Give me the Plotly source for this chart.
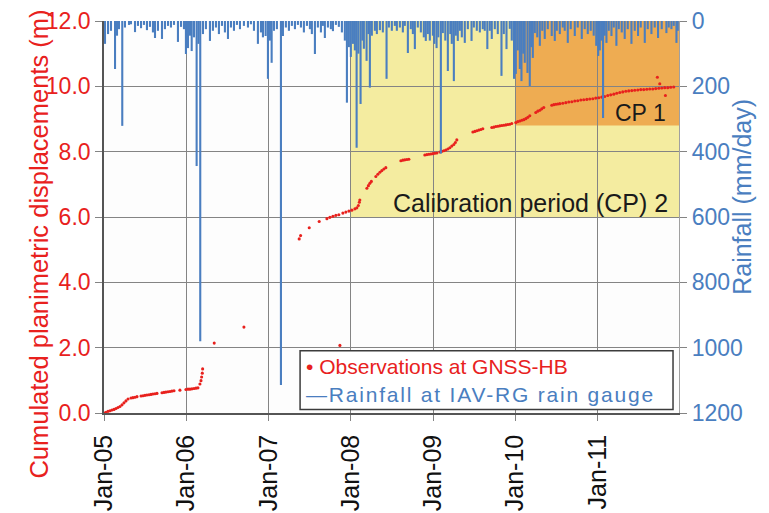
import plotly.graph_objects as go

# ---------------------------------------------------------------
# Daily rainfall events at the IAV-RG gauge (decimal year, mm/day)
# ---------------------------------------------------------------
rain_time = [
    2005.012, 2005.049, 2005.085, 2005.134, 2005.158, 2005.182, 2005.222, 2005.255,
    2005.304, 2005.328, 2005.377, 2005.413, 2005.450, 2005.486, 2005.522, 2005.559,
    2005.595, 2005.620, 2005.656, 2005.705, 2005.741, 2005.778, 2005.814, 2005.851,
    2005.899, 2005.936, 2005.972, 2005.996, 2006.021, 2006.045, 2006.066, 2006.094,
    2006.126, 2006.148, 2006.170, 2006.203, 2006.239, 2006.288, 2006.324, 2006.361,
    2006.397, 2006.434, 2006.470, 2006.507, 2006.543, 2006.580, 2006.616, 2006.653,
    2006.701, 2006.750, 2006.786, 2006.823, 2006.871, 2006.908, 2006.932, 2006.965,
    2006.993, 2007.017, 2007.038, 2007.066, 2007.102, 2007.151, 2007.175, 2007.211,
    2007.248, 2007.284, 2007.321, 2007.357, 2007.394, 2007.430, 2007.467, 2007.503,
    2007.527, 2007.564, 2007.600, 2007.637, 2007.661, 2007.685, 2007.722, 2007.758,
    2007.783, 2007.819, 2007.855, 2007.892, 2007.928, 2007.953, 2007.977, 2008.001,
    2008.026, 2008.050, 2008.071, 2008.092, 2008.119, 2008.141, 2008.159, 2008.192,
    2008.214, 2008.232, 2008.256, 2008.293, 2008.317, 2008.354, 2008.390, 2008.435,
    2008.463, 2008.499, 2008.536, 2008.560, 2008.597, 2008.633, 2008.657, 2008.694,
    2008.730, 2008.755, 2008.779, 2008.815, 2008.852, 2008.888, 2008.912, 2008.937,
    2008.961, 2008.998, 2009.016, 2009.043, 2009.064, 2009.095, 2009.119, 2009.149,
    2009.180, 2009.210, 2009.228, 2009.253, 2009.277, 2009.301, 2009.326, 2009.350,
    2009.386, 2009.423, 2009.468, 2009.496, 2009.532, 2009.569, 2009.605, 2009.629,
    2009.660, 2009.690, 2009.714, 2009.751, 2009.787, 2009.832, 2009.860, 2009.893,
    2009.933, 2009.957, 2009.985, 2010.006, 2010.030, 2010.055, 2010.075, 2010.097,
    2010.115, 2010.148, 2010.176, 2010.194, 2010.213, 2010.237, 2010.267, 2010.298,
    2010.328, 2010.358, 2010.395, 2010.443, 2010.480, 2010.504, 2010.541, 2010.577,
    2010.601, 2010.638, 2010.674, 2010.723, 2010.759, 2010.808, 2010.844, 2010.881,
    2010.917, 2010.953, 2010.984, 2011.008, 2011.027, 2011.045, 2011.067, 2011.087,
    2011.108, 2011.136, 2011.169, 2011.197, 2011.229, 2011.258, 2011.294, 2011.330,
    2011.367, 2011.412, 2011.452, 2011.492, 2011.525, 2011.574, 2011.610, 2011.655,
    2011.695, 2011.735, 2011.780, 2011.837, 2011.865, 2011.898, 2011.926, 2011.959,
    2011.975,
]
rain_mm = [
    70, 40, 30, 147, 45, 25, 321, 20,
    12, 10, 34, 15, 22, 12, 28, 18,
    35, 52, 30, 55, 25, 15, 20, 12,
    64, 18, 25, 101, 83, 45, 92, 50,
    444, 70, 980, 40, 25, 61, 30, 20,
    40, 15, 35, 55, 20, 30, 12, 25,
    15, 20, 10, 30, 70, 35, 50, 46,
    177, 60, 128, 30, 25, 1114, 46, 20,
    30, 15, 25, 12, 20, 35, 15, 25,
    40, 101, 20, 35, 15, 52, 20, 25,
    31, 12, 18, 35, 60, 250, 80, 110,
    70, 90, 388, 100, 254, 60, 85, 122,
    40, 204, 45, 30, 40, 28, 35, 177,
    20, 30, 15, 30, 20, 35, 15, 98,
    25, 40, 86, 20, 35, 50, 61, 40,
    60, 45, 70, 83, 50, 406, 37, 60,
    153, 40, 70, 184, 45, 61, 30, 50,
    67, 25, 61, 20, 30, 35, 25, 30,
    86, 30, 55, 25, 40, 168, 40, 86,
    24, 60, 177, 162, 90, 147, 184, 100,
    128, 159, 199, 80, 113, 37, 50, 76,
    30, 55, 25, 46, 61, 30, 40, 20,
    30, 67, 25, 46, 20, 55, 25, 40,
    30, 45, 76, 107, 90, 60, 297, 45,
    67, 30, 46, 20, 76, 25, 35, 55,
    25, 70, 30, 46, 20, 67, 25, 40,
    20, 52, 25, 37, 20, 25, 15, 67,
    30,
]

# ---------------------------------------------------------------
# GNSS-HB cumulated planimetric displacement (decimal year, m)
# ---------------------------------------------------------------
obs_time = [
    2005.000, 2005.024, 2005.049, 2005.073, 2005.097, 2005.122, 2005.146, 2005.170,
    2005.194, 2005.219, 2005.243, 2005.267, 2005.292,
    2005.328, 2005.352, 2005.377, 2005.401,
    2005.450, 2005.474, 2005.498, 2005.522, 2005.547, 2005.571, 2005.595, 2005.620, 2005.644,
    2005.705, 2005.729, 2005.753, 2005.778, 2005.802, 2005.826, 2005.851,
    2005.923,
    2005.996, 2006.021, 2006.045, 2006.069, 2006.094, 2006.118, 2006.142,
    2006.166, 2006.179, 2006.187, 2006.195, 2006.199,
    2006.340, 2006.701, 2007.868,
    2007.373, 2007.390, 2007.495, 2007.616,
    2007.710, 2007.746, 2007.783, 2007.819, 2007.855,
    2007.904, 2007.940, 2007.977, 2008.013, 2008.050, 2008.074, 2008.092, 2008.104, 2008.110,
    2008.196, 2008.214, 2008.232, 2008.250,
    2008.305, 2008.329, 2008.354, 2008.378, 2008.402, 2008.426,
    2008.609, 2008.633, 2008.657, 2008.682, 2008.706,
    2008.900, 2008.925, 2008.949, 2008.973, 2008.998, 2009.022, 2009.046,
    2009.083, 2009.107, 2009.131, 2009.155, 2009.180, 2009.204, 2009.228, 2009.253,
    2009.271, 2009.289,
    2009.484, 2009.508, 2009.532, 2009.557, 2009.581, 2009.605,
    2009.714, 2009.739, 2009.763, 2009.787, 2009.812, 2009.836, 2009.860, 2009.885,
    2009.909, 2009.933, 2009.957,
    2010.006, 2010.030, 2010.055, 2010.079, 2010.103, 2010.128, 2010.152, 2010.176,
    2010.249, 2010.273, 2010.298, 2010.322, 2010.346,
    2010.443, 2010.468, 2010.492, 2010.516, 2010.541,
    2010.577, 2010.614, 2010.650, 2010.687, 2010.723, 2010.759, 2010.796, 2010.832,
    2010.869, 2010.905, 2010.942, 2010.978, 2011.015, 2011.051, 2011.087, 2011.124,
    2011.160, 2011.197, 2011.233, 2011.270, 2011.306, 2011.343, 2011.379, 2011.416,
    2011.452, 2011.489, 2011.525, 2011.561, 2011.598, 2011.634, 2011.671, 2011.707,
    2011.744, 2011.780, 2011.816, 2011.853, 2011.889, 2011.926,
    2011.727, 2011.756, 2011.825,
]
obs_disp = [
    0.00, 0.02, 0.05, 0.07, 0.09, 0.11, 0.14, 0.17,
    0.20, 0.25, 0.31, 0.37, 0.43,
    0.46, 0.47, 0.48, 0.50,
    0.52, 0.53, 0.54, 0.55, 0.56, 0.57, 0.58, 0.59, 0.60,
    0.62, 0.63, 0.64, 0.65, 0.66, 0.67, 0.68,
    0.70,
    0.72, 0.73, 0.73, 0.74, 0.75, 0.76, 0.77,
    0.89, 0.99, 1.10, 1.22, 1.35,
    2.14, 2.63, 2.07,
    5.33, 5.43, 5.67, 5.86,
    5.95, 5.99, 6.02, 6.05, 6.07,
    6.12, 6.15, 6.18, 6.21, 6.25, 6.28, 6.35, 6.45, 6.52,
    6.88, 6.96, 7.03, 7.09,
    7.24, 7.31, 7.37, 7.42, 7.47, 7.51,
    7.72, 7.74, 7.75, 7.76, 7.77,
    7.90, 7.91, 7.92, 7.93, 7.94, 7.95, 7.96,
    7.99, 8.01, 8.03, 8.05, 8.08, 8.12, 8.17, 8.22,
    8.28, 8.36,
    8.60, 8.62, 8.64, 8.66, 8.68, 8.70,
    8.74, 8.75, 8.77, 8.78, 8.79, 8.80, 8.81, 8.82,
    8.83, 8.84, 8.86,
    8.89, 8.92, 8.94, 8.96, 8.98, 9.01, 9.05, 9.10,
    9.20, 9.24, 9.27, 9.31, 9.35,
    9.42, 9.44, 9.45, 9.46, 9.47,
    9.48, 9.50, 9.52, 9.53, 9.55, 9.56, 9.58, 9.59,
    9.60, 9.61, 9.62, 9.64, 9.65, 9.67, 9.69, 9.72,
    9.74, 9.76, 9.79, 9.81, 9.83, 9.85, 9.86, 9.87,
    9.88, 9.89, 9.90, 9.90, 9.91, 9.92, 9.92, 9.93,
    9.94, 9.95, 9.96, 9.96, 9.97, 9.98,
    10.28, 10.08, 9.72,
]

# Axis ticks and calibration periods
x_tickvals = [2005, 2006, 2007, 2008, 2009, 2010, 2011]
x_ticktext = ["Jan-05", "Jan-06", "Jan-07", "Jan-08", "Jan-09", "Jan-10", "Jan-11"]
disp_ticks = [0, 2, 4, 6, 8, 10, 12]
rain_ticks = [0, 200, 400, 600, 800, 1000, 1200]
x_end = 2011.99
cp2_start, cp2_floor = 2008.0, 6.0
cp1_start, cp1_floor = 2010.0, 8.8

RED = "#e8211d"
BLUE = "#4a7ec0"
GRID = "#848484"
FONT = "Liberation Sans, Arial, sans-serif"

# rainfall drawn as vertical sticks hanging from the top (reversed axis)
stick_x, stick_y = [], []
for t, r in zip(rain_time, rain_mm):
    stick_x += [t, t, None]
    stick_y += [0, r, None]

fig = go.Figure()
fig.add_trace(go.Scatter(
    x=obs_time, y=obs_disp, mode="markers", name="Observations at GNSS-HB",
    marker=dict(size=3.1, color=RED, line=dict(width=0)),
    showlegend=False, yaxis="y",
))
fig.add_trace(go.Scatter(
    x=stick_x, y=stick_y, mode="lines", name="Rainfall at IAV-RG rain gauge",
    line=dict(color=BLUE, width=2.1), connectgaps=False,
    showlegend=False, yaxis="y2",
))

# calibration periods
fig.add_shape(type="rect", xref="x", yref="y", x0=cp2_start, x1=x_end,
              y0=cp2_floor, y1=12, fillcolor="#f4eca0", line_width=0, layer="below")
fig.add_shape(type="rect", xref="x", yref="y", x0=cp1_start, x1=x_end,
              y0=cp1_floor, y1=12, fillcolor="#eeac52", line_width=0, layer="below")

fig.add_annotation(x=2011.86, y=9.17, xref="x", yref="y", text="CP 1",
                   showarrow=False, xanchor="right", yanchor="middle",
                   font=dict(family=FONT, size=23, color="#1a1a1a"))
fig.add_annotation(x=2011.88, y=6.44, xref="x", yref="y", text="Calibration period (CP) 2",
                   showarrow=False, xanchor="right", yanchor="middle",
                   font=dict(family=FONT, size=25, color="#1a1a1a"))

# axis titles
fig.add_annotation(x=-0.141, y=0.432, xref="paper", yref="paper",
                   text="Cumulated planimetric displacements (m)", textangle=-90,
                   showarrow=False, font=dict(family=FONT, size=25.5, color=RED))
fig.add_annotation(x=1.136, y=0.552, xref="paper", yref="paper",
                   text="Rainfall (mm/day)", textangle=-90,
                   showarrow=False, font=dict(family=FONT, size=25, color=BLUE))

# legend box
fig.add_shape(type="rect", xref="paper", yref="paper", x0=0.341, x1=0.9896,
              y0=0.009, y1=0.159, fillcolor="white", line=dict(color="#3c3c3c", width=1.5))
fig.add_annotation(x=0.347, y=0.1185, xref="paper", yref="paper", xanchor="left",
                   yanchor="middle", showarrow=False,
                   text="• Observations at GNSS-HB",
                   font=dict(family=FONT, size=21, color=RED))
fig.add_annotation(x=0.347, y=0.047, xref="paper", yref="paper", xanchor="left",
                   yanchor="middle", showarrow=False,
                   text='<span style="letter-spacing:1.8px">—Rainfall at IAV-RG rain gauge</span>',
                   font=dict(family=FONT, size=21, color=BLUE))

fig.update_layout(
    width=769, height=513,
    margin=dict(l=104, r=90, t=21, b=100, autoexpand=False),
    paper_bgcolor="white", plot_bgcolor="#fdfdfd",
    font=dict(family=FONT),
    xaxis=dict(
        range=[2005, x_end], tickvals=x_tickvals, ticktext=x_ticktext,
        tickangle=-90, tickfont=dict(size=25, color="#111"), automargin=False,
        ticklabelstandoff=4,
        showgrid=True, gridcolor=GRID, gridwidth=1.4,
        showline=True, linecolor="#555", linewidth=1.6,
        ticks="outside", ticklen=6, tickcolor=GRID, zeroline=False,
    ),
    yaxis=dict(
        range=[0, 12], tickvals=disp_ticks, tickformat=".1f", automargin=False,
        tickfont=dict(size=23, color=RED),
        showgrid=True, gridcolor=GRID, gridwidth=1.4,
        showline=True, linecolor="#555", linewidth=1.6,
        ticks="outside", ticklen=7, tickcolor=GRID, zeroline=False,
    ),
    yaxis2=dict(
        overlaying="y", side="right", range=[1200, 0], tickvals=rain_ticks,
        tickfont=dict(size=23, color=BLUE), showgrid=False, automargin=False,
        showline=True, linecolor="#a0a0a0", linewidth=1.3,
        ticks="outside", ticklen=7, tickcolor=GRID, zeroline=False,
    ),
)

fig.write_html("out.html")
